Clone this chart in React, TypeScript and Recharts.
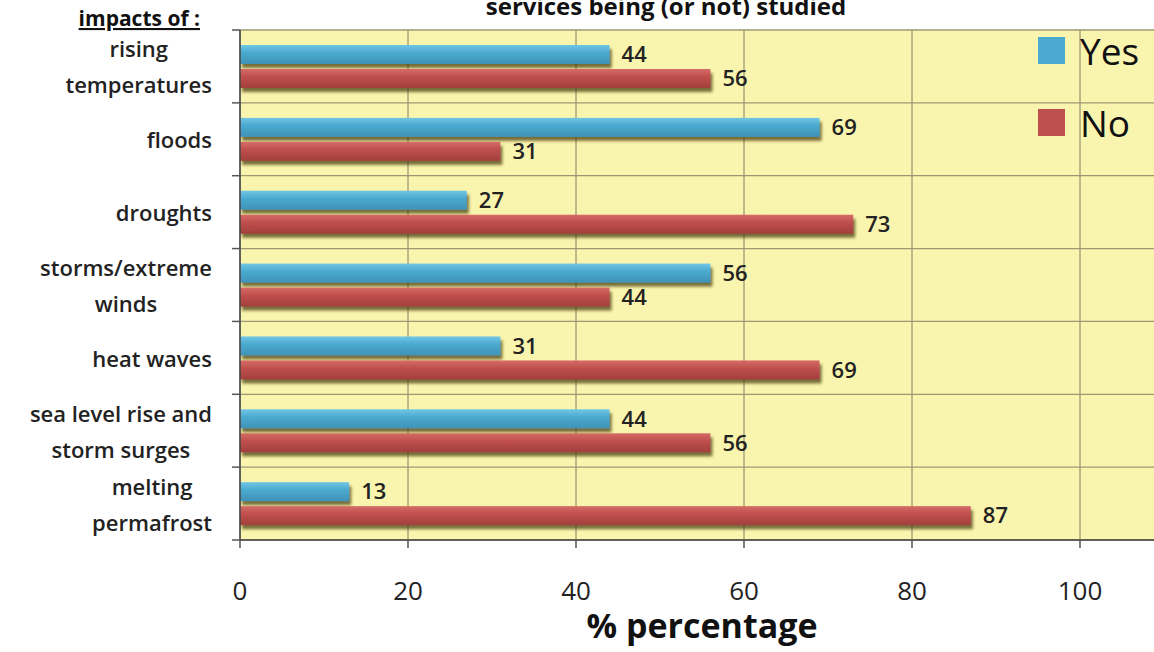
import React from 'react';
import { BarChart, Bar, XAxis, YAxis, CartesianGrid, LabelList } from 'recharts';

const FONT = '"Open Sans", "DejaVu Sans", sans-serif';

const categories = [
  'rising\ntemperatures',
  'floods',
  'droughts',
  'storms/extreme\nwinds',
  'heat waves',
  'sea level rise and\nstorm surges',
  'melting\npermafrost',
];
const yesValues = [44, 69, 27, 56, 31, 44, 13];
const noValues = [56, 31, 73, 44, 69, 56, 87];
const xTicks = [0, 20, 40, 60, 80, 100];
const seriesNames = ['Yes', 'No'];
const titleText = 'services being (or not) studied';
const axisTitle = '% percentage';
const sideTitle = 'impacts of :';

const YES_COLOR = '#4BAAD0';
const NO_COLOR = '#C0504D';
const PLOT_BG = '#FAF5AE';
const GRID = '#9d9873';

const data = categories.map((c, i) => ({ category: c, yes: yesValues[i], no: noValues[i] }));
const legendItems = [
  { name: seriesNames[0], color: YES_COLOR },
  { name: seriesNames[1], color: NO_COLOR },
];

const CHART_W = 1175;
const CHART_H = 652;
const MARGIN = { top: 30, right: 11, bottom: 12, left: 0 };
const Y_W = 240;
const X_H = 100;
const Y_TICK_SIZE = 8;
const Y_TICK_MARGIN = 20;
const PLOT_H = CHART_H - MARGIN.top - MARGIN.bottom - X_H;
const BAND = PLOT_H / categories.length;
const LABEL_FONT_SIZE = 22;
const LINE_GAP = 36;

let measureCtx: CanvasRenderingContext2D | null = null;
function textWidth(t: string, font: string): number {
  if (!measureCtx) {
    const c = document.createElement('canvas');
    measureCtx = c.getContext('2d');
  }
  if (!measureCtx) return t.length * 12;
  measureCtx.font = font;
  return measureCtx.measureText(t).width;
}

function CategoryTick(props: any) {
  const { x, y, payload, index } = props;
  const lines = String(payload.value).split('\n');
  const font = `600 ${LABEL_FONT_SIZE}px "Open Sans"`;
  const blockW = Math.max(...lines.map((l) => textWidth(l, font)));
  const cx = x - blockW / 2;
  const startY = y - ((lines.length - 1) * LINE_GAP) / 2;
  const axisX = x + Y_TICK_SIZE + Y_TICK_MARGIN;
  const half = BAND / 2;
  return (
    <g>
      {lines.map((l, i) => (
        <text
          key={i}
          x={cx}
          y={startY + i * LINE_GAP}
          textAnchor="middle"
          dominantBaseline="central"
          fontFamily={FONT}
          fontSize={LABEL_FONT_SIZE}
          fontWeight={600}
          fill="#222"
        >
          {l}
        </text>
      ))}
      <line x1={axisX - Y_TICK_SIZE} x2={axisX} y1={y - half} y2={y - half} stroke="#555" strokeWidth={1.5} />
      {index === categories.length - 1 && (
        <line x1={axisX - Y_TICK_SIZE} x2={axisX} y1={y + half} y2={y + half} stroke="#555" strokeWidth={1.5} />
      )}
    </g>
  );
}

const makeShape = (gradId: string) => (props: any) => {
  const { x, y, width, height } = props;
  if (width == null || height == null) return <g />;
  return (
    <rect
      x={x}
      y={y}
      width={Math.max(0, width)}
      height={height}
      fill={`url(#${gradId})`}
      filter="url(#barShadow)"
    />
  );
};

export default function App() {
  return (
    <div
      style={{
        position: 'absolute',
        left: 0,
        top: 0,
        width: 1154,
        height: 652,
        overflow: 'hidden',
        background: '#fff',
      }}
    >
      <svg width={0} height={0} style={{ position: 'absolute' }}>
        <defs>
          <filter id="barShadow" x="-5%" y="-40%" width="115%" height="200%">
            <feDropShadow dx="2" dy="4" stdDeviation="1.8" floodColor="#4a3f10" floodOpacity="0.75" />
          </filter>
          <linearGradient id="gradYes" x1="0" y1="0" x2="0" y2="1">
            <stop offset="0%" stopColor="#72c6e4" />
            <stop offset="40%" stopColor={YES_COLOR} />
            <stop offset="100%" stopColor="#3f93b6" />
          </linearGradient>
          <linearGradient id="gradNo" x1="0" y1="0" x2="0" y2="1">
            <stop offset="0%" stopColor="#d56c68" />
            <stop offset="40%" stopColor={NO_COLOR} />
            <stop offset="100%" stopColor="#a23f3c" />
          </linearGradient>
        </defs>
      </svg>
      <BarChart
        width={CHART_W}
        height={CHART_H}
        data={data}
        layout="vertical"
        margin={MARGIN}
        barGap={5}
      >
        <CartesianGrid
          fill={PLOT_BG}
          stroke={GRID}
          strokeWidth={1.3}
          horizontalCoordinatesGenerator={({ offset }: any) =>
            categories
              .map((_, i) => offset.top + (offset.height * i) / categories.length)
              .concat([offset.top + offset.height])
          }
        />
        <XAxis
          type="number"
          domain={[0, 110]}
          ticks={xTicks}
          allowDataOverflow
          height={X_H}
          tickSize={8}
          tickMargin={34}
          axisLine={{ stroke: '#444', strokeWidth: 1.5 }}
          tickLine={{ stroke: '#555', strokeWidth: 1.5 }}
          tick={{ fontSize: 26, fill: '#222', fontFamily: FONT }}
          label={{
            value: axisTitle,
            position: 'insideBottom',
            offset: 2,
            style: { fontSize: 34, fontWeight: 700, fill: '#111', fontFamily: FONT },
          }}
        />
        <YAxis
          type="category"
          dataKey="category"
          width={Y_W}
          tickSize={Y_TICK_SIZE}
          tickMargin={Y_TICK_MARGIN}
          tickLine={false}
          axisLine={{ stroke: '#444', strokeWidth: 1.5 }}
          tick={(p: any) => <CategoryTick {...p} />}
          interval={0}
        />
        <Bar
          dataKey="yes"
          name={seriesNames[0]}
          fill={YES_COLOR}
          barSize={19}
          shape={makeShape('gradYes')}
          isAnimationActive={false}
        >
          <LabelList
            dataKey="yes"
            position="right"
            offset={12}
            style={{ fontSize: 22, fontWeight: 600, fill: '#222', fontFamily: FONT }}
          />
        </Bar>
        <Bar
          dataKey="no"
          name={seriesNames[1]}
          fill={NO_COLOR}
          barSize={19}
          shape={makeShape('gradNo')}
          isAnimationActive={false}
        >
          <LabelList
            dataKey="no"
            position="right"
            offset={12}
            style={{ fontSize: 22, fontWeight: 600, fill: '#222', fontFamily: FONT }}
          />
        </Bar>
      </BarChart>
      <svg
        width={1154}
        height={652}
        style={{ position: 'absolute', left: 0, top: 0, pointerEvents: 'none' }}
      >
        <text x={666} y={15} textAnchor="middle" fontFamily={FONT} fontSize={24} fontWeight={700} fill="#111">
          {titleText}
        </text>
        <text
          x={200}
          y={26}
          textAnchor="end"
          fontFamily={FONT}
          fontSize={21}
          fontWeight={700}
          fill="#111"
          style={{ textDecoration: 'underline' }}
        >
          {sideTitle}
        </text>
        {legendItems.map((item, i) => (
          <g key={item.name}>
            <rect x={1038} y={37 + i * 72} width={27} height={27} fill={item.color} />
            <text
              x={1080}
              y={50 + i * 72}
              dominantBaseline="central"
              fontFamily={FONT}
              fontSize={37}
              fill="#111"
            >
              {item.name}
            </text>
          </g>
        ))}
      </svg>
    </div>
  );
}
